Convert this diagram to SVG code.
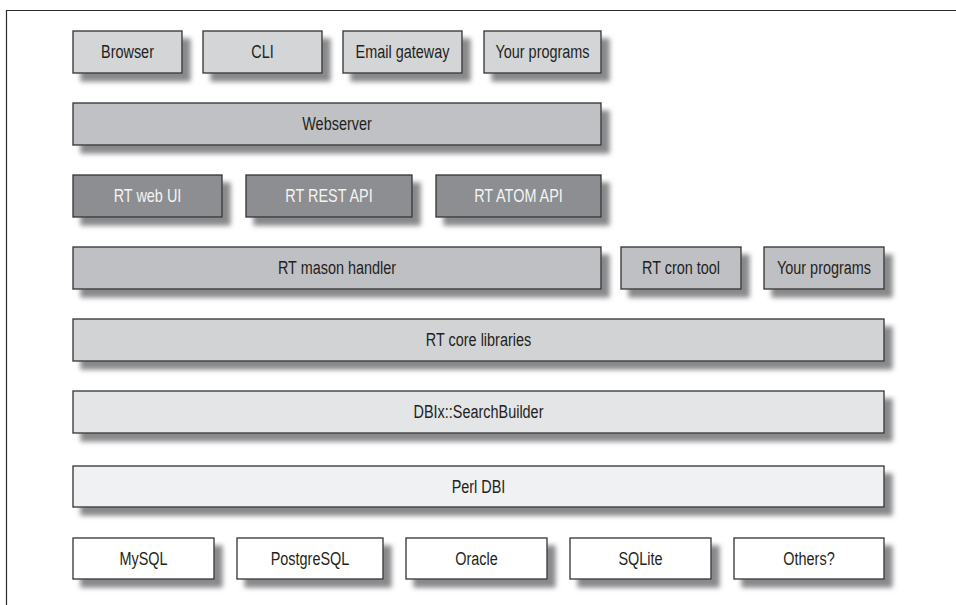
<svg xmlns="http://www.w3.org/2000/svg" width="956" height="605" viewBox="0 0 956 605">
<defs>
<filter id="sh" x="-5%" y="-10%" width="120%" height="160%">
<feGaussianBlur in="SourceAlpha" stdDeviation="2.6" result="b"/>
<feOffset in="b" dx="8" dy="8" result="o"/>
<feFlood flood-color="#6a6b6d" flood-opacity="0.8"/>
<feComposite in2="o" operator="in" result="s"/>
<feMerge><feMergeNode in="s"/><feMergeNode in="SourceGraphic"/></feMerge>
</filter>
<style>
.b{stroke:#333335;stroke-width:1.3;filter:url(#sh)}
.l1{fill:#d4d5d7}
.l2{fill:#c0c1c4}
.l3{fill:#8d8e91}
.l4{fill:#bfc0c3}
.l5{fill:#d2d3d5}
.l6{fill:#e4e5e6}
.l7{fill:#f0f1f2}
.l8{fill:#ffffff}
text{font-family:"Liberation Sans",Arial,sans-serif;font-size:19px;fill:#231f20;text-anchor:middle}
text.w{fill:#f4f4f4}
.frame{stroke:#2a2a2a;stroke-width:1.2;fill:none}
</style>
</defs>
<path class="frame" d="M956 10.5H6.5V605"/>
<g id="browser"><rect class="b l1" x="73" y="31" width="109" height="42"/><text transform="translate(127.5 57.5) scale(0.76 1)">Browser</text></g>
<g id="cli"><rect class="b l1" x="203" y="31" width="119" height="42"/><text transform="translate(262.5 57.5) scale(0.76 1)">CLI</text></g>
<g id="email"><rect class="b l1" x="343" y="31" width="119" height="42"/><text transform="translate(402.5 57.5) scale(0.76 1)">Email gateway</text></g>
<g id="yourprog1"><rect class="b l1" x="484" y="31" width="117" height="42"/><text transform="translate(542.5 57.5) scale(0.76 1)">Your programs</text></g>
<g id="webserver"><rect class="b l2" x="73" y="103" width="528" height="42"/><text transform="translate(337 129.5) scale(0.76 1)">Webserver</text></g>
<g id="webui"><rect class="b l3" x="73" y="175" width="149" height="42"/><text class="w" transform="translate(147.5 201.5) scale(0.76 1)">RT web UI</text></g>
<g id="restapi"><rect class="b l3" x="246" y="175" width="166" height="42"/><text class="w" transform="translate(329 201.5) scale(0.76 1)">RT REST API</text></g>
<g id="atomapi"><rect class="b l3" x="436" y="175" width="165" height="42"/><text class="w" transform="translate(518.5 201.5) scale(0.76 1)">RT ATOM API</text></g>
<g id="mason"><rect class="b l4" x="73" y="247" width="528" height="42"/><text transform="translate(337 273.5) scale(0.76 1)">RT mason handler</text></g>
<g id="cron"><rect class="b l4" x="621" y="247" width="120" height="42"/><text transform="translate(681 273.5) scale(0.76 1)">RT cron tool</text></g>
<g id="yourprog2"><rect class="b l4" x="764" y="247" width="120" height="42"/><text transform="translate(824 273.5) scale(0.76 1)">Your programs</text></g>
<g id="core"><rect class="b l5" x="73" y="319" width="811" height="42"/><text transform="translate(478.5 345.5) scale(0.76 1)">RT core libraries</text></g>
<g id="dbix"><rect class="b l6" x="73" y="391" width="811" height="42"/><text transform="translate(478.5 417.5) scale(0.76 1)">DBIx::SearchBuilder</text></g>
<g id="perldbi"><rect class="b l7" x="73" y="466" width="811" height="41"/><text transform="translate(478.5 492.5) scale(0.76 1)">Perl DBI</text></g>
<g id="mysql"><rect class="b l8" x="73" y="538" width="141" height="41"/><text transform="translate(143.5 564.5) scale(0.76 1)">MySQL</text></g>
<g id="postgresql"><rect class="b l8" x="237" y="538" width="146" height="41"/><text transform="translate(310 564.5) scale(0.76 1)">PostgreSQL</text></g>
<g id="oracle"><rect class="b l8" x="406" y="538" width="141" height="41"/><text transform="translate(476.5 564.5) scale(0.76 1)">Oracle</text></g>
<g id="sqlite"><rect class="b l8" x="570" y="538" width="141" height="41"/><text transform="translate(640.5 564.5) scale(0.76 1)">SQLite</text></g>
<g id="others"><rect class="b l8" x="734" y="538" width="150" height="41"/><text transform="translate(809 564.5) scale(0.76 1)">Others?</text></g>
<g id="connectors"/>
</svg>
